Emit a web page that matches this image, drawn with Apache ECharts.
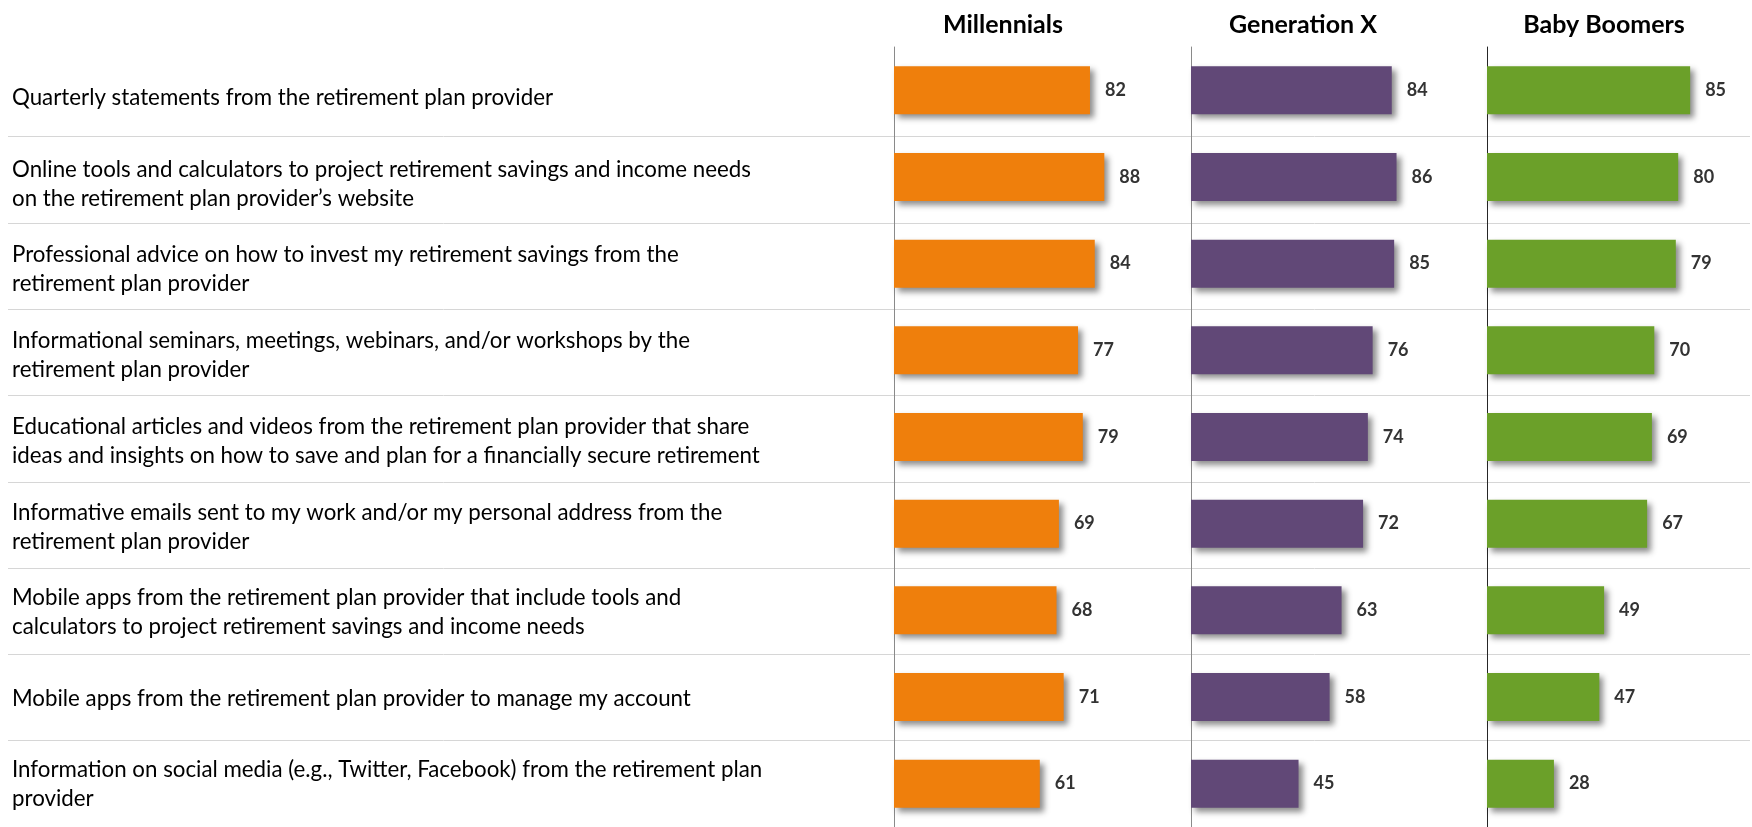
<!DOCTYPE html>
<html>
<head>
<meta charset="utf-8">
<script src="https://cdn.jsdelivr.net/npm/echarts@6/dist/echarts.min.js"></script>
<style>
html,body{margin:0;padding:0;background:#fff;}
#chart{width:1752px;height:827px;}
</style>
</head>
<body>
<div id="chart"></div>
<script>
const categories = [
  "Quarterly statements from the retirement plan provider",
  "Online tools and calculators to project retirement savings and income needs\non the retirement plan provider\u2019s website",
  "Professional advice on how to invest my retirement savings from the\nretirement plan provider",
  "Informational seminars, meetings, webinars, and/or workshops by the\nretirement plan provider",
  "Educational articles and videos from the retirement plan provider that share\nideas and insights on how to save and plan for a financially secure retirement",
  "Informative emails sent to my work and/or my personal address from the\nretirement plan provider",
  "Mobile apps from the retirement plan provider that include tools and\ncalculators to project retirement savings and income needs",
  "Mobile apps from the retirement plan provider to manage my account",
  "Information on social media (e.g., Twitter, Facebook) from the retirement plan\nprovider"
];
const groupNames = ["Millennials", "Generation X", "Baby Boomers"];
const millennials = [82, 88, 84, 77, 79, 69, 68, 71, 61];
const generationX = [84, 86, 85, 76, 74, 72, 63, 58, 45];
const babyBoomers = [85, 80, 79, 70, 69, 67, 49, 47, 28];

const seriesValues = [millennials, generationX, babyBoomers];
const colors = ["#EF7F0C", "#614877", "#6BA029"];
const axisColors = ["#8a8a8a", "#8a8a8a", "#262626"];
const panelLefts = [894, 1191, 1487];
const titleCenters = [998, 1298, 1599];

const chart = echarts.init(document.getElementById('chart'), null, {renderer: 'canvas'});

// grid 0: separators only; grid 1: category labels only
const grids = [
  {left: 8, width: 1742, top: 50.3, height: 780.3},
  {left: 8, width: 1742, top: 55.3, height: 780.3}
];
const xAxes = [
  {gridIndex: 0, type: 'value', show: false, min: 0, max: 1},
  {gridIndex: 1, type: 'value', show: false, min: 0, max: 1}
];
const yAxes = [{
  gridIndex: 0, type: 'category', inverse: true, data: categories,
  axisLine: {show: false}, axisTick: {show: false}, axisLabel: {show: false},
  splitLine: {show: true, interval: 0, showMinLine: false,
    lineStyle: {color: '#d6d6d6', width: 1}}
}, {
  gridIndex: 1, type: 'category', inverse: true, data: categories,
  axisLine: {show: false}, axisTick: {show: false}, splitLine: {show: false},
  axisLabel: {inside: true, margin: 4, interval: 0, color: '#000',
    fontFamily: 'Lato', fontSize: 22.3, lineHeight: 29, padding: [6, 0, 0, 0]}
}];
const series = [];
const titles = [];

seriesValues.forEach((vals, i) => {
  const gi = i + 2;
  grids.push({left: panelLefts[i], width: 239, top: 47, height: 783.3});
  xAxes.push({gridIndex: gi, type: 'value', min: 0, max: 100, show: false});
  yAxes.push({
    gridIndex: gi, type: 'category', inverse: true, data: categories,
    axisLine: {show: true, lineStyle: {color: axisColors[i], width: 1}},
    axisTick: {show: false}, axisLabel: {show: false}, splitLine: {show: false}
  });
  series.push({
    type: 'bar', name: groupNames[i], xAxisIndex: gi, yAxisIndex: gi,
    data: vals, barWidth: 48,
    itemStyle: {color: colors[i], shadowColor: 'rgba(0,0,0,0.45)',
      shadowBlur: 6, shadowOffsetX: 4, shadowOffsetY: 4},
    label: {show: true, position: 'right', distance: 15, color: '#333',
      fontFamily: 'Lato', fontWeight: 'bold', fontSize: 18},
    silent: true, animation: false
  });
  titles.push({text: groupNames[i], left: titleCenters[i], top: 7, textAlign: 'center',
    textStyle: {fontFamily: 'Lato', fontWeight: 'bold', fontSize: 25, color: '#000'}});
});

chart.setOption({
  animation: false,
  backgroundColor: '#fff',
  title: titles,
  grid: grids,
  xAxis: xAxes,
  yAxis: yAxes,
  series: series
});
</script>
</body>
</html>
